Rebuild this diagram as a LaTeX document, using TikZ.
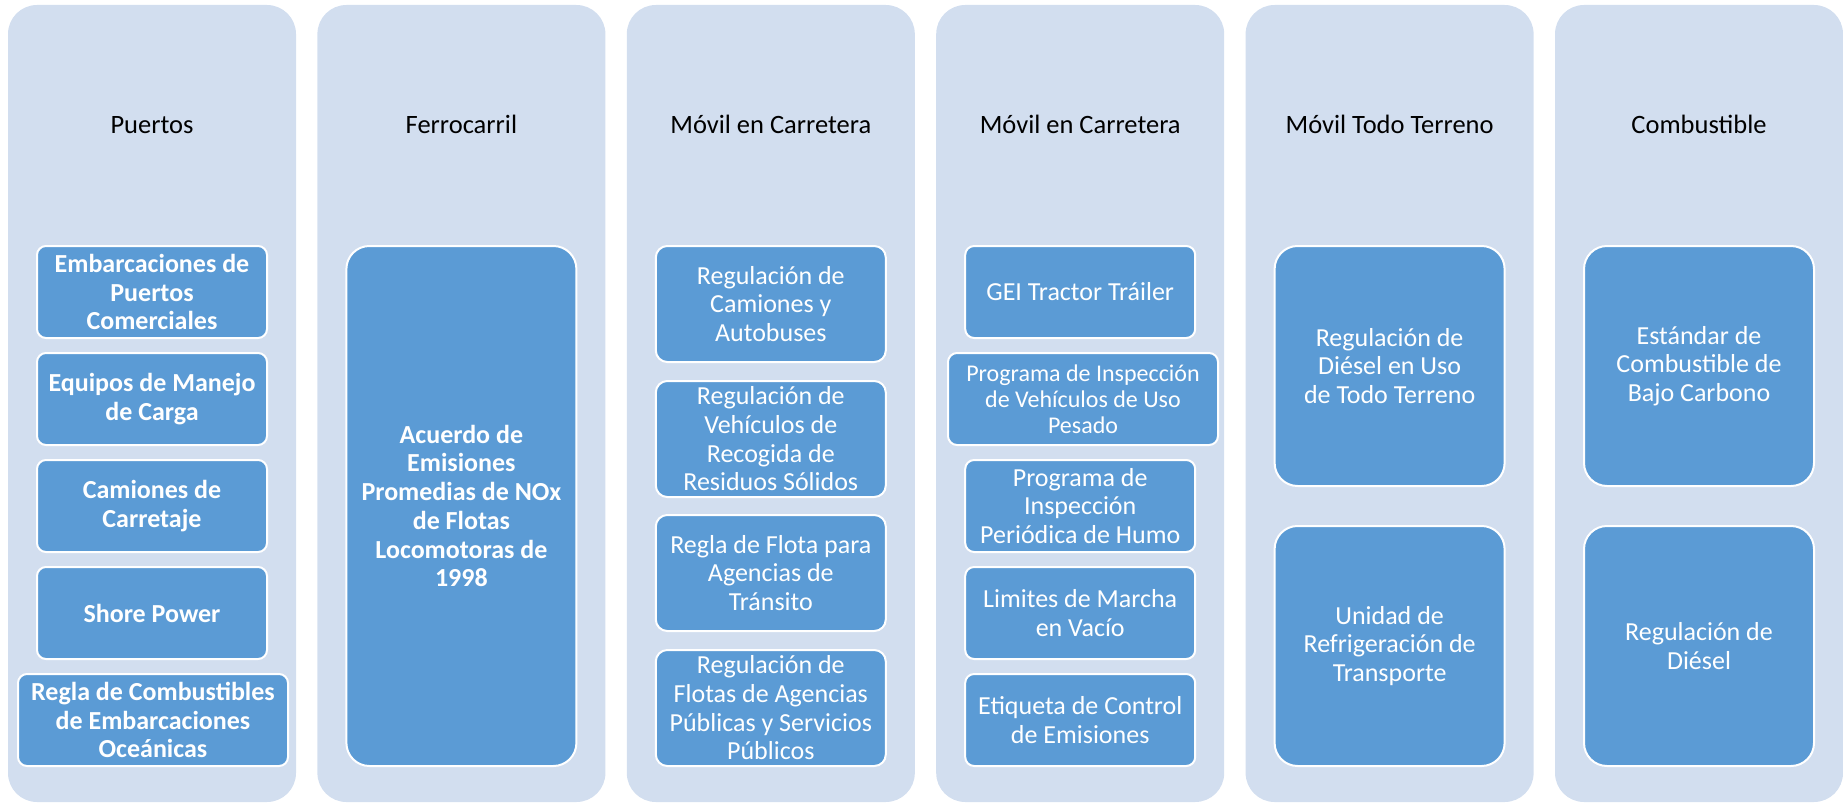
\documentclass[tikz,border=0pt]{standalone}
\usepackage{fontspec}
\setmainfont{Carlito}
\definecolor{colbg}{RGB}{210,222,239}
\definecolor{boxblue}{RGB}{91,155,213}
\tikzset{
  colbox/.style={fill=colbg, draw=none, rounded corners=29pt, minimum width=288pt, minimum height=797pt, inner sep=0pt},
  ttl/.style={font=\fontsize{26.5}{30}\selectfont, text=black, anchor=base, inner sep=0pt},
  ibox/.style={fill=boxblue, draw=white, line width=2pt, text=white, align=center, inner sep=0pt, font=\fontsize{26}{28.7}\selectfont},
  ibold/.style={ibox, font=\bfseries\fontsize{26}{28.7}\selectfont},
  hfive/.style={minimum width=230pt, minimum height=92pt, rounded corners=9pt},
  hfour/.style={minimum width=230pt, minimum height=116pt, rounded corners=11.5pt},
  htwo/.style={minimum width=230pt, minimum height=240pt, rounded corners=23pt},
  hone/.style={minimum width=230pt, minimum height=520pt, rounded corners=23pt},
  wide/.style={minimum width=270pt}
}
\begin{document}
\begin{tikzpicture}[x=1pt,y=-1pt]
\useasboundingbox (0,0) rectangle (1843,805);
% columns
\node[colbox] (c1) at (152,403.5) {};
\node[colbox] (c2) at (461.4,403.5) {};
\node[colbox] (c3) at (770.8,403.5) {};
\node[colbox] (c4) at (1080.2,403.5) {};
\node[colbox] (c5) at (1389.6,403.5) {};
\node[colbox] (c6) at (1699,403.5) {};
% titles
\node[ttl] (t1) at (152,134) {Puertos};
\node[ttl] (t2) at (461.4,134) {Ferrocarril};
\node[ttl] (t3) at (770.8,134) {Móvil en Carretera};
\node[ttl] (t4) at (1080.2,134) {Móvil en Carretera};
\node[ttl] (t5) at (1389.6,134) {Móvil Todo Terreno};
\node[ttl] (t6) at (1699,134) {Combustible};
% column 1
\node[ibold,hfive] (p1) at (152,292) {Embarcaciones de\\Puertos\\Comerciales};
\node[ibold,hfive] (p2) at (152,399) {Equipos de Manejo\\de Carga};
\node[ibold,hfive] (p3) at (152,506) {Camiones de\\Carretaje};
\node[ibold,hfive] (p4) at (152,613) {Shore Power};
\node[ibold,hfive,wide] (p5) at (153,720) {Regla de Combustibles\\de Embarcaciones\\Oceánicas};
% column 2
\node[ibold,hone] (f1) at (461.4,506) {Acuerdo de\\Emisiones\\Promedias de NOx\\de Flotas\\Locomotoras de\\1998};
% column 3
\node[ibox,hfour] (m1) at (770.8,304) {Regulación de\\Camiones y\\Autobuses};
\node[ibox,hfour] (m2) at (770.8,439) {Regulación de\\Vehículos de\\Recogida de\\Residuos Sólidos};
\node[ibox,hfour] (m3) at (770.8,573) {Regla de Flota para\\Agencias de\\Tránsito};
\node[ibox,hfour] (m4) at (770.8,708) {Regulación de\\Flotas de Agencias\\Públicas y Servicios\\Públicos};
% column 4
\node[ibox,hfive] (n1) at (1080.2,292) {GEI Tractor Tráiler};
\node[ibox,hfive,wide,font=\fontsize{24}{26}\selectfont] (n2) at (1083,399) {Programa de Inspección\\de Vehículos de Uso\\Pesado};
\node[ibox,hfive] (n3) at (1080.2,506) {Programa de\\Inspección\\Periódica de Humo};
\node[ibox,hfive] (n4) at (1080.2,613) {Limites de Marcha\\en Vacío};
\node[ibox,hfive] (n5) at (1080.2,720) {Etiqueta de Control\\de Emisiones};
% column 5
\node[ibox,htwo] (o1) at (1389.6,366) {Regulación de\\Diésel en Uso\\de Todo Terreno};
\node[ibox,htwo] (o2) at (1389.6,646) {Unidad de\\Refrigeración de\\Transporte};
% column 6
\node[ibox,htwo] (k1) at (1699,366) {Estándar de\\Combustible de\\Bajo Carbono};
\node[ibox,htwo] (k2) at (1699,646) {Regulación de\\Diésel};
\end{tikzpicture}
\end{document}
